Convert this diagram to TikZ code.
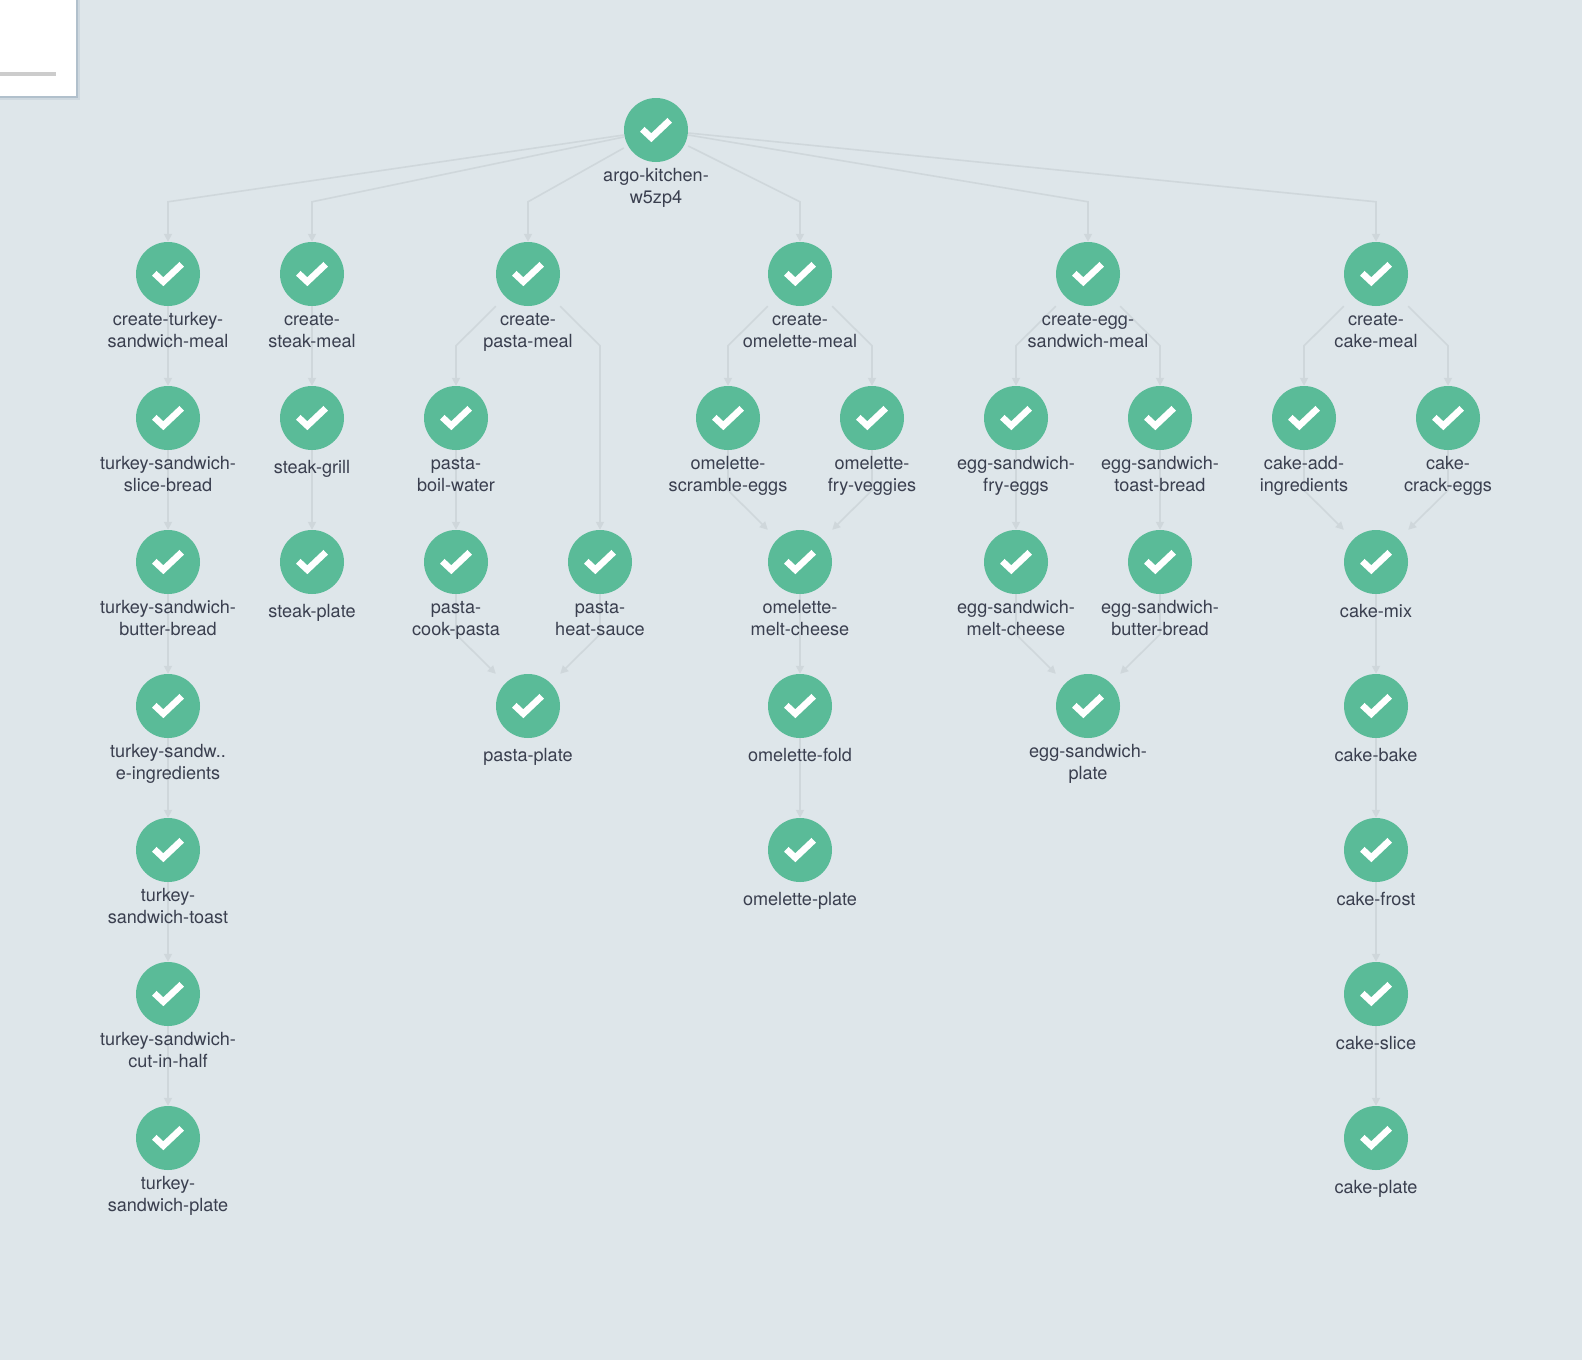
\documentclass[tikz,border=0pt]{standalone}
\usepackage{fontspec}
\setmainfont{TeX Gyre Heros}
\usetikzlibrary{arrows.meta,positioning,backgrounds}
\definecolor{pagebg}{HTML}{DEE6EA}
\definecolor{stepgreen}{HTML}{5ABB98}
\definecolor{linegrey}{HTML}{CFD7DB}
\definecolor{textgrey}{HTML}{3A3F4F}
\definecolor{panelshadow}{HTML}{9FB0C0}
\tikzset{
	stepdot/.style={shape=rectangle,rounded corners=32pt,fill=stepgreen,inner sep=0pt,minimum size=64pt,
		path picture={\draw[white,line width=6.5pt,sharp corners] ([shift={(-13.7,-0.7)}]path picture bounding box.center) -- ([shift={(-4.7,7.7)}]path picture bounding box.center) -- ([shift={(13.7,-9.7)}]path picture bounding box.center);}},
	steptext/.style={align=center,inner sep=0pt,text=textgrey,font=\fontsize{18.1}{22}\selectfont,text height=37pt},
	onetext/.style={steptext,text height=15pt,yshift=-4pt},
	link/.style={draw=linegrey,line width=1.6pt,-{Triangle[length=8pt,width=8pt]}}
}
\begin{document}
\begin{tikzpicture}[x=1pt,y=-1pt,node distance=4pt]
	\useasboundingbox (0,0) rectangle (1582,1360);

	% root
	\node[stepdot] (root) at (656,130) {};
	\node[steptext,below=of root] (rootlabel) {argo-kitchen-\\w5zp4};

	% turkey sandwich
	\node[stepdot] (turkeymeal) at (168,274) {};
	\node[steptext,below=of turkeymeal] (turkeymeallabel) {create-turkey-\\sandwich-meal};
	\node[stepdot] (turkeyslice) at (168,418) {};
	\node[steptext,below=of turkeyslice] (turkeyslicelabel) {turkey-sandwich-\\slice-bread};
	\node[stepdot] (turkeybutter) at (168,562) {};
	\node[steptext,below=of turkeybutter] (turkeybutterlabel) {turkey-sandwich-\\butter-bread};
	\node[stepdot] (turkeyadd) at (168,706) {};
	\node[steptext,below=of turkeyadd] (turkeyaddlabel) {turkey-sandw..\\e-ingredients};
	\node[stepdot] (turkeytoast) at (168,850) {};
	\node[steptext,below=of turkeytoast] (turkeytoastlabel) {turkey-\\sandwich-toast};
	\node[stepdot] (turkeycut) at (168,994) {};
	\node[steptext,below=of turkeycut] (turkeycutlabel) {turkey-sandwich-\\cut-in-half};
	\node[stepdot] (turkeyplate) at (168,1138) {};
	\node[steptext,below=of turkeyplate] (turkeyplatelabel) {turkey-\\sandwich-plate};

	% steak
	\node[stepdot] (steakmeal) at (312,274) {};
	\node[steptext,below=of steakmeal] (steakmeallabel) {create-\\steak-meal};
	\node[stepdot] (steakgrill) at (312,418) {};
	\node[onetext,below=of steakgrill] (steakgrilllabel) {steak-grill};
	\node[stepdot] (steakplate) at (312,562) {};
	\node[onetext,below=of steakplate] (steakplatelabel) {steak-plate};

	% pasta
	\node[stepdot] (pastameal) at (528,274) {};
	\node[steptext,below=of pastameal] (pastameallabel) {create-\\pasta-meal};
	\node[stepdot] (pastaboil) at (456,418) {};
	\node[steptext,below=of pastaboil] (pastaboillabel) {pasta-\\boil-water};
	\node[stepdot] (pastacook) at (456,562) {};
	\node[steptext,below=of pastacook] (pastacooklabel) {pasta-\\cook-pasta};
	\node[stepdot] (pastasauce) at (600,562) {};
	\node[steptext,below=of pastasauce] (pastasaucelabel) {pasta-\\heat-sauce};
	\node[stepdot] (pastaplate) at (528,706) {};
	\node[onetext,below=of pastaplate] (pastaplatelabel) {pasta-plate};

	% omelette
	\node[stepdot] (omelettemeal) at (800,274) {};
	\node[steptext,below=of omelettemeal] (omelettemeallabel) {create-\\omelette-meal};
	\node[stepdot] (omelettescramble) at (728,418) {};
	\node[steptext,below=of omelettescramble] (omelettescramblelabel) {omelette-\\scramble-eggs};
	\node[stepdot] (omeletteveggies) at (872,418) {};
	\node[steptext,below=of omeletteveggies] (omeletteveggieslabel) {omelette-\\fry-veggies};
	\node[stepdot] (omelettemelt) at (800,562) {};
	\node[steptext,below=of omelettemelt] (omelettemeltlabel) {omelette-\\melt-cheese};
	\node[stepdot] (omelettefold) at (800,706) {};
	\node[onetext,below=of omelettefold] (omelettefoldlabel) {omelette-fold};
	\node[stepdot] (omeletteplate) at (800,850) {};
	\node[onetext,below=of omeletteplate] (omeletteplatelabel) {omelette-plate};

	% egg sandwich
	\node[stepdot] (eggmeal) at (1088,274) {};
	\node[steptext,below=of eggmeal] (eggmeallabel) {create-egg-\\sandwich-meal};
	\node[stepdot] (eggfry) at (1016,418) {};
	\node[steptext,below=of eggfry] (eggfrylabel) {egg-sandwich-\\fry-eggs};
	\node[stepdot] (eggtoast) at (1160,418) {};
	\node[steptext,below=of eggtoast] (eggtoastlabel) {egg-sandwich-\\toast-bread};
	\node[stepdot] (eggmelt) at (1016,562) {};
	\node[steptext,below=of eggmelt] (eggmeltlabel) {egg-sandwich-\\melt-cheese};
	\node[stepdot] (eggbutter) at (1160,562) {};
	\node[steptext,below=of eggbutter] (eggbutterlabel) {egg-sandwich-\\butter-bread};
	\node[stepdot] (eggplate) at (1088,706) {};
	\node[steptext,below=of eggplate] (eggplatelabel) {egg-sandwich-\\plate};

	% cake
	\node[stepdot] (cakemeal) at (1376,274) {};
	\node[steptext,below=of cakemeal] (cakemeallabel) {create-\\cake-meal};
	\node[stepdot] (cakeadd) at (1304,418) {};
	\node[steptext,below=of cakeadd] (cakeaddlabel) {cake-add-\\ingredients};
	\node[stepdot] (cakecrack) at (1448,418) {};
	\node[steptext,below=of cakecrack] (cakecracklabel) {cake-\\crack-eggs};
	\node[stepdot] (cakemix) at (1376,562) {};
	\node[onetext,below=of cakemix] (cakemixlabel) {cake-mix};
	\node[stepdot] (cakebake) at (1376,706) {};
	\node[onetext,below=of cakebake] (cakebakelabel) {cake-bake};
	\node[stepdot] (cakefrost) at (1376,850) {};
	\node[onetext,below=of cakefrost] (cakefrostlabel) {cake-frost};
	\node[stepdot] (cakeslice) at (1376,994) {};
	\node[onetext,below=of cakeslice] (cakeslicelabel) {cake-slice};
	\node[stepdot] (cakeplate) at (1376,1138) {};
	\node[onetext,below=of cakeplate] (cakeplatelabel) {cake-plate};

	% corner panel
	\fill[panelshadow,opacity=.25] (-10,-10) rectangle (80,100);
	\fill[panelshadow,opacity=.6] (-10,-10) rectangle (78,98);
	\fill[white] (-10,-10) rectangle (76,96);
	\fill[black!20] (-10,72) rectangle (56,76);

	\begin{scope}[on background layer]
		\fill[pagebg] (0,0) rectangle (1582,1360);

		% from the root
		\draw[link] ([yshift=-5pt]root.west) -- ([yshift=40pt]turkeymeal.north) -- (turkeymeal.north);
		\draw[link] ([yshift=-7pt]root.west) -- ([yshift=40pt]steakmeal.north) -- (steakmeal.north);
		\draw[link] ([yshift=-18pt]root.west) -- ([yshift=40pt]pastameal.north) -- (pastameal.north);
		\draw[link] ([yshift=-16pt]root.east) -- ([yshift=40pt]omelettemeal.north) -- (omelettemeal.north);
		\draw[link] ([yshift=-5pt]root.east) -- ([yshift=40pt]eggmeal.north) -- (eggmeal.north);
		\draw[link] ([yshift=-3pt]root.east) -- ([yshift=40pt]cakemeal.north) -- (cakemeal.north);

		\draw[link] (turkeymeal) -- (turkeyslice.north);
		\draw[link] (turkeyslice) -- (turkeybutter.north);
		\draw[link] (turkeybutter) -- (turkeyadd.north);
		\draw[link] (turkeyadd) -- (turkeytoast.north);
		\draw[link] (turkeytoast) -- (turkeycut.north);
		\draw[link] (turkeycut) -- (turkeyplate.north);

		\draw[link] (steakmeal) -- (steakgrill.north);
		\draw[link] (steakgrill) -- (steakplate.north);

		\draw[link] (pastameal.south west) -- ([yshift=40pt]pastaboil.north) -- (pastaboil.north);
		\draw[link] (pastameal.south east) -- ([yshift=184pt]pastasauce.north) -- (pastasauce.north);
		\draw[link] (pastaboil) -- (pastacook.north);
		\draw[link] (pastacook) -- ([yshift=-40pt]pastacook.south) -- (pastaplate.north west);
		\draw[link] (pastasauce) -- ([yshift=-40pt]pastasauce.south) -- (pastaplate.north east);

		\draw[link] (omelettemeal.south west) -- ([yshift=40pt]omelettescramble.north) -- (omelettescramble.north);
		\draw[link] (omelettemeal.south east) -- ([yshift=40pt]omeletteveggies.north) -- (omeletteveggies.north);
		\draw[link] (omelettescramble) -- ([yshift=-40pt]omelettescramble.south) -- (omelettemelt.north west);
		\draw[link] (omeletteveggies) -- ([yshift=-40pt]omeletteveggies.south) -- (omelettemelt.north east);
		\draw[link] (omelettemelt) -- (omelettefold.north);
		\draw[link] (omelettefold) -- (omeletteplate.north);

		\draw[link] (eggmeal.south west) -- ([yshift=40pt]eggfry.north) -- (eggfry.north);
		\draw[link] (eggmeal.south east) -- ([yshift=40pt]eggtoast.north) -- (eggtoast.north);
		\draw[link] (eggfry) -- (eggmelt.north);
		\draw[link] (eggtoast) -- (eggbutter.north);
		\draw[link] (eggmelt) -- ([yshift=-40pt]eggmelt.south) -- (eggplate.north west);
		\draw[link] (eggbutter) -- ([yshift=-40pt]eggbutter.south) -- (eggplate.north east);

		\draw[link] (cakemeal.south west) -- ([yshift=40pt]cakeadd.north) -- (cakeadd.north);
		\draw[link] (cakemeal.south east) -- ([yshift=40pt]cakecrack.north) -- (cakecrack.north);
		\draw[link] (cakeadd) -- ([yshift=-40pt]cakeadd.south) -- (cakemix.north west);
		\draw[link] (cakecrack) -- ([yshift=-40pt]cakecrack.south) -- (cakemix.north east);
		\draw[link] (cakemix) -- (cakebake.north);
		\draw[link] (cakebake) -- (cakefrost.north);
		\draw[link] (cakefrost) -- (cakeslice.north);
		\draw[link] (cakeslice) -- (cakeplate.north);
	\end{scope}
\end{tikzpicture}
\end{document}
